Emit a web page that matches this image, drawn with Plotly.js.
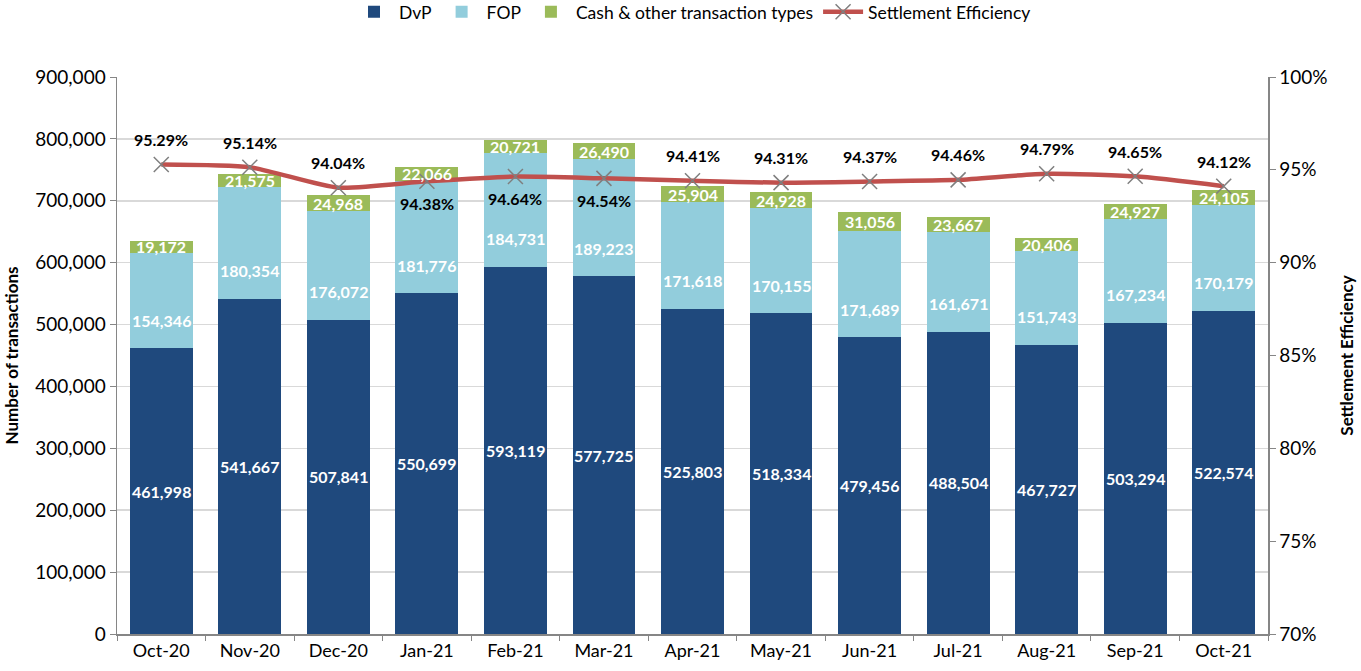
<!DOCTYPE html>
<html>
<head>
<meta charset="utf-8">
<script src="https://cdn.plot.ly/plotly-3.0.1.min.js"></script>
<style>html,body{margin:0;padding:0;background:#fff;}#chart{width:1361px;height:671px;}</style>
</head>
<body>
<div id="chart"></div>
<script>
const months = ["Oct-20","Nov-20","Dec-20","Jan-21","Feb-21","Mar-21","Apr-21","May-21","Jun-21","Jul-21","Aug-21","Sep-21","Oct-21"];
const dvp = [461998,541667,507841,550699,593119,577725,525803,518334,479456,488504,467727,503294,522574];
const fop = [154346,180354,176072,181776,184731,189223,171618,170155,171689,161671,151743,167234,170179];
const cash = [19172,21575,24968,22066,20721,26490,25904,24928,31056,23667,20406,24927,24105];
const efficiency = [95.29,95.14,94.04,94.38,94.64,94.54,94.41,94.31,94.37,94.46,94.79,94.65,94.12];
const effLabelBelow = [false,false,false,true,true,true,false,false,false,false,false,false,false];

const FONT = "Lato, 'Open Sans', sans-serif";
const fmt = v => v.toLocaleString('en-US');

const traces = [
  {type:'bar', name:'DvP', x:months, y:dvp, marker:{color:'#1F497D'}, hoverinfo:'y'},
  {type:'bar', name:'FOP', x:months, y:fop, marker:{color:'#92CDDC'}, hoverinfo:'y'},
  {type:'bar', name:'Cash & other transaction types', x:months, y:cash, marker:{color:'#9BBB59'}, hoverinfo:'y'},
  {type:'scatter', mode:'lines+markers', name:'Settlement Efficiency', x:months, y:efficiency, yaxis:'y2',
   line:{color:'#C0504D', width:4.5, shape:'spline', smoothing:0.6},
   marker:{symbol:'x-thin', size:15, line:{color:'#7F7F7F', width:1.5}, color:'#7F7F7F'}}
];

const annotations = [];
months.forEach((m,i) => {
  annotations.push({x:m, y:dvp[i]/2, text:'<b>'+fmt(dvp[i])+'</b>', showarrow:false,
    font:{family:FONT, size:16, color:'#ffffff'}});
  annotations.push({x:m, y:dvp[i], yshift:28, text:'<b>'+fmt(fop[i])+'</b>', showarrow:false,
    font:{family:FONT, size:16, color:'#ffffff'}});
  annotations.push({x:m, y:dvp[i]+fop[i]+cash[i]/2, text:'<b>'+fmt(cash[i])+'</b>', showarrow:false,
    font:{family:FONT, size:16, color:'#ffffff'}});
  annotations.push({x:m, y:efficiency[i], yref:'y2', yshift: effLabelBelow[i] ? -22 : 25,
    text:'<b>'+efficiency[i].toFixed(2)+'%</b>', showarrow:false,
    font:{family:FONT, size:16, color:'#000000'}});
});

const layout = {
  width:1361, height:671,
  margin:{l:117, r:93, t:77, b:37, autoexpand:false},
  paper_bgcolor:'#ffffff', plot_bgcolor:'#ffffff',
  barmode:'stack', bargap:0.29,
  font:{family:FONT, size:18, color:'#000'},
  showlegend:true,
  legend:{orientation:'h', x:0.5, xanchor:'center', y:1.117, yanchor:'middle',
    font:{family:FONT, size:17.5, color:'#000'}, traceorder:'normal', itemwidth:40},
  xaxis:{type:'category', range:[-0.5, months.length-0.5], autorange:false,
    showline:true, linecolor:'#868686', linewidth:1.5,
    ticks:'outside', tickson:'boundaries', ticklen:5, tickcolor:'#868686',
    tickfont:{family:FONT, size:18}, showgrid:false, zeroline:false},
  yaxis:{range:[0,900000], dtick:100000, tickformat:',d', showline:true, linecolor:'#868686', linewidth:1.5,
    ticks:'outside', ticklen:6, tickcolor:'#868686', gridcolor:'#D9D9D9', gridwidth:1.5,
    tickfont:{family:FONT, size:19}, zeroline:false,
    title:{text:'<b>Number of transactions</b>', font:{family:FONT, size:17}, standoff:12}},
  yaxis2:{overlaying:'y', side:'right', range:[70,100], dtick:5, ticksuffix:'%',
    showline:true, linecolor:'#868686', linewidth:1.5, ticks:'outside', ticklen:6, tickcolor:'#868686',
    showgrid:false, zeroline:false, tickfont:{family:FONT, size:19},
    title:{text:'<b>Settlement Efficiency</b>', font:{family:FONT, size:17}, standoff:14}},
  annotations:annotations
};

Plotly.newPlot('chart', traces, layout, {displayModeBar:false, staticPlot:true});
</script>
</body>
</html>
